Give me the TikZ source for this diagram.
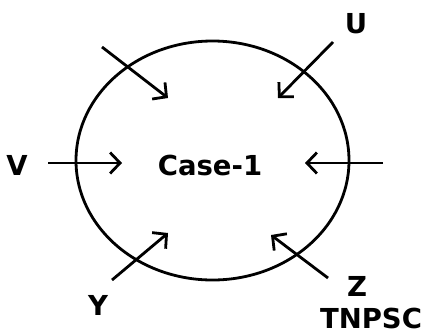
\documentclass[tikz,border=0pt]{standalone}
\usepackage{fontspec}
\setmainfont{DejaVu Sans}
\usetikzlibrary{arrows.meta,shapes.geometric}

\begin{document}
\begin{tikzpicture}[
  x=1pt, y=-1pt,
  every node/.style={inner sep=0pt, font=\fontsize{27.5}{32}\selectfont\bfseries},
  cell/.style={ellipse, draw, line width=2.8pt, minimum width=273pt, minimum height=239pt},
  lbl/.style={anchor=center},
  inarrow/.style={draw, line width=2.8pt, -{Straight Barb[length=10pt, width=21pt]}}]

  \useasboundingbox (0,0) rectangle (422,335);

  % the region and its name
  \node[cell] (cell) at (212.5,160.5) {};
  \node[lbl]  (case) at (210,165) {Case-1};

  % labels printed outside the region
  \node[lbl] (u)     at (356,24)  {U};
  \node[lbl] (v)     at (17,165)  {V};
  \node[lbl] (y)     at (98,305)  {Y};
  \node[lbl] (z)     at (357,286) {Z};
  \node[lbl] (tnpsc) at (371,318) {TNPSC};

  % arrow ends
  \coordinate (nw0) at (102,47);   \coordinate (nw1) at (168,98);
  \coordinate (ne0) at (333,42);   \coordinate (ne1) at (278,98);
  \coordinate (w0)  at (48,163);   \coordinate (w1)  at (122,163);
  \coordinate (e0)  at (383,163);  \coordinate (e1)  at (305,163);
  \coordinate (sw0) at (112,280);  \coordinate (sw1) at (168,233);
  \coordinate (se0) at (328,278);  \coordinate (se1) at (271,235);

  % arrows
  \draw[inarrow] (nw0) -- (nw1);
  \draw[inarrow] (ne0) -- (ne1);
  \draw[inarrow] (w0)  -- (w1);
  \draw[inarrow] (e0)  -- (e1);
  \draw[inarrow] (sw0) -- (sw1);
  \draw[inarrow] (se0) -- (se1);
\end{tikzpicture}
\end{document}
